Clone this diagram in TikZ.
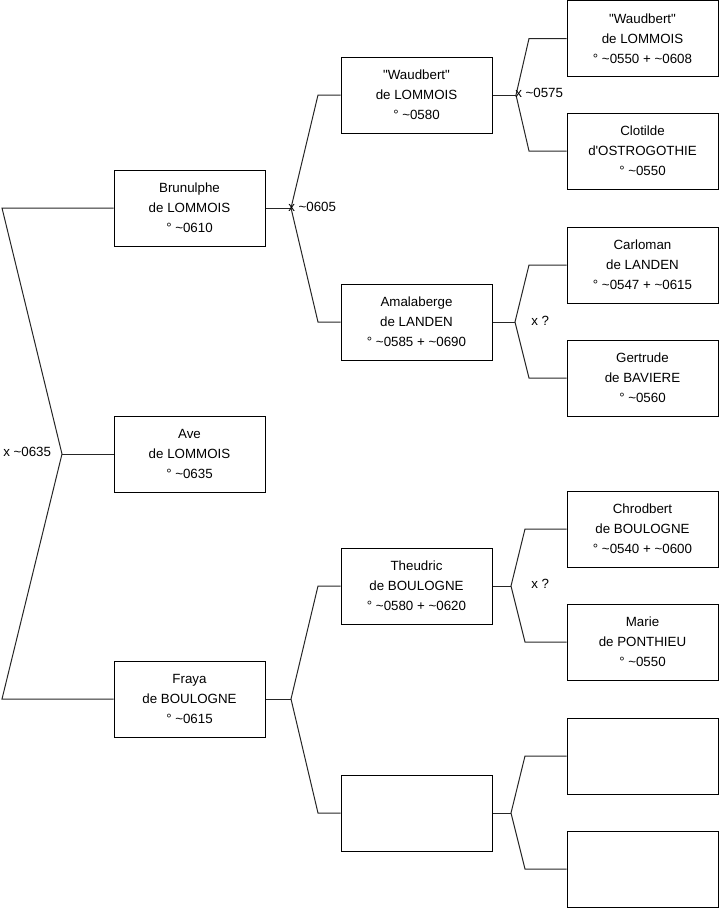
\documentclass[tikz,border=0pt]{standalone}
\usepackage{fontspec}
\setmainfont{Liberation Sans}[Ligatures=TeXOff]
\newcommand\tld{\textasciitilde}
\begin{document}
\begin{tikzpicture}[x=0.75pt,y=-0.75pt,
  person/.style={draw=black, line width=0.75pt, minimum width=113.25pt, minimum height=57pt, inner sep=0pt, align=center, font=\fontsize{10}{15}\selectfont},
  link/.style={draw=black!85, line width=0.75pt},
  lab/.style={anchor=west, inner sep=0pt, font=\fontsize{10}{12}\selectfont}]
\useasboundingbox (0,0) rectangle (719,908);
% generation 1
\node[person] (bru) at (189.5,208) {Brunulphe\\de LOMMOIS\\° \tld0610};
\node[person] (ave) at (189.5,454) {Ave\\de LOMMOIS\\° \tld0635};
\node[person] (fra) at (189.5,699) {Fraya\\de BOULOGNE\\° \tld0615};
% generation 2
\node[person] (wau) at (416.5,95) {"Waudbert"\\de LOMMOIS\\° \tld0580};
\node[person] (ama) at (416.5,322) {Amalaberge\\de LANDEN\\° \tld0585 + \tld0690};
\node[person] (the) at (416.5,586) {Theudric\\de BOULOGNE\\° \tld0580 + \tld0620};
\node[person] (emp) at (416.5,813) {};
% generation 3
\node[person] (wau2) at (642.5,38.5) {"Waudbert"\\de LOMMOIS\\° \tld0550 + \tld0608};
\node[person] (clo) at (642.5,151) {Clotilde\\d'OSTROGOTHIE\\° \tld0550};
\node[person] (car) at (642.5,265) {Carloman\\de LANDEN\\° \tld0547 + \tld0615};
\node[person] (ger) at (642.5,378) {Gertrude\\de BAVIERE\\° \tld0560};
\node[person] (chr) at (642.5,529) {Chrodbert\\de BOULOGNE\\° \tld0540 + \tld0600};
\node[person] (mar) at (642.5,642) {Marie\\de PONTHIEU\\° \tld0550};
\node[person] (ea) at (642.5,756) {};
\node[person] (eb) at (642.5,869) {};
% root connector
\coordinate (r1) at (2,208);
\coordinate (r0) at (62,454);
\coordinate (r2) at (2,699);
\draw[link] (bru.west) -- (r1) -- (r0) -- (r2) -- (fra.west);
\draw[link] (r0) -- (ave.west);
% Brunulphe parents
\coordinate (j1) at (291,208);
\coordinate (j1a) at (318,95);
\coordinate (j1b) at (318,322);
\draw[link] (bru.east) -- (j1);
\draw[link] (wau.west) -- (j1a) -- (j1) -- (j1b) -- (ama.west);
% Fraya parents
\coordinate (j2) at (291,699);
\coordinate (j2a) at (318,586);
\coordinate (j2b) at (318,813);
\draw[link] (fra.east) -- (j2);
\draw[link] (the.west) -- (j2a) -- (j2) -- (j2b) -- (emp.west);
% Waudbert parents
\coordinate (k1) at (516,95);
\coordinate (k1a) at (529,38.5);
\coordinate (k1b) at (529,151);
\draw[link] (wau.east) -- (k1);
\draw[link] (wau2.west) -- (k1a) -- (k1) -- (k1b) -- (clo.west);
% Amalaberge parents
\coordinate (k2) at (515,322);
\coordinate (k2a) at (529,265);
\coordinate (k2b) at (529,378);
\draw[link] (ama.east) -- (k2);
\draw[link] (car.west) -- (k2a) -- (k2) -- (k2b) -- (ger.west);
% Theudric parents
\coordinate (k3) at (511,586);
\coordinate (k3a) at (525,529);
\coordinate (k3b) at (525,642);
\draw[link] (the.east) -- (k3);
\draw[link] (chr.west) -- (k3a) -- (k3) -- (k3b) -- (mar.west);
% empty parents
\coordinate (k4) at (511,813);
\coordinate (k4a) at (525,756);
\coordinate (k4b) at (525,869);
\draw[link] (emp.east) -- (k4);
\draw[link] (ea.west) -- (k4a) -- (k4) -- (k4b) -- (eb.west);
% marriage labels
\node[lab] (m0) at (3,452) {x \tld0635};
\node[lab] (m1) at (288,207) {x \tld0605};
\node[lab] (m2) at (515,93) {x \tld0575};
\node[lab] (m3) at (531,321) {x ?};
\node[lab] (m4) at (531,584) {x ?};
\end{tikzpicture}
\end{document}
